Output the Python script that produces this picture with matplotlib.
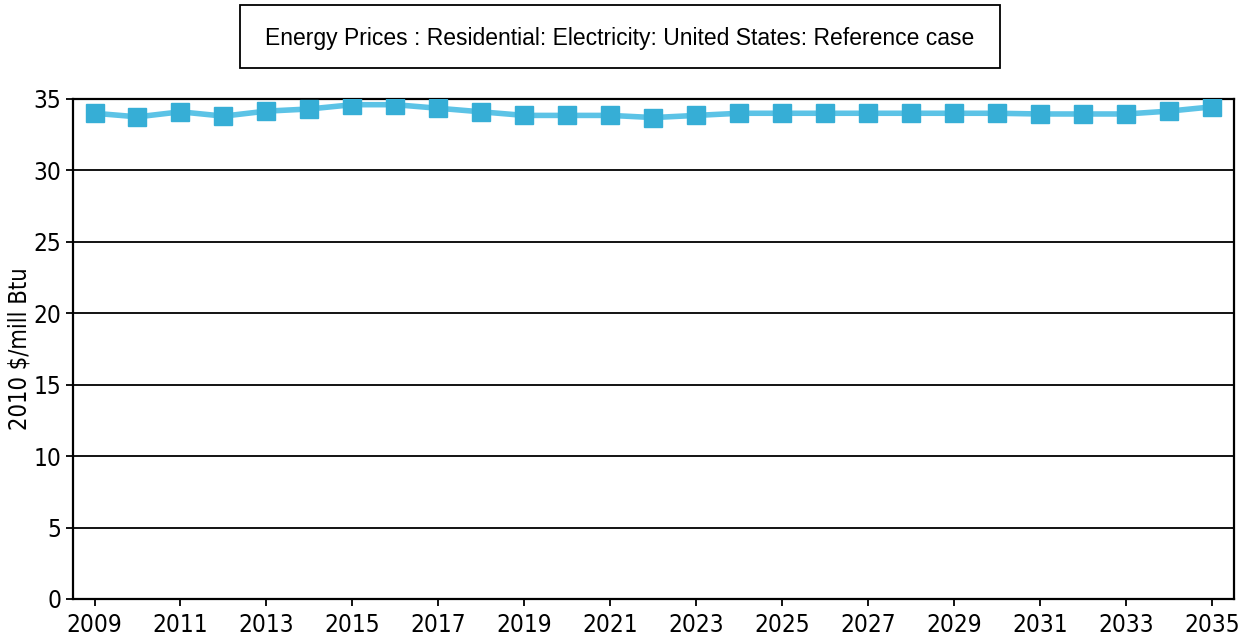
import matplotlib.pyplot as plt
from matplotlib.patches import Rectangle
from matplotlib.ticker import MultipleLocator

plt.rcParams['font.family'] = ['DejaVu Sans']
plt.rcParams['font.stretch'] = 'condensed'

years = list(range(2009, 2036))
prices = [34.0, 33.75, 34.1, 33.8, 34.15, 34.3, 34.6, 34.6, 34.35, 34.1,
          33.85, 33.85, 33.85, 33.7, 33.85, 34.0, 34.0, 34.0, 34.0, 34.0,
          34.0, 34.0, 33.95, 33.95, 33.95, 34.15, 34.45]
xticks = list(range(2009, 2036, 2))

fig = plt.figure(figsize=(12.46, 6.44), dpi=100)
ax = fig.add_axes([0.0586, 0.0699, 0.9314, 0.7764])

ax.plot(years, prices, '-', color='#5cc3e6', lw=4, marker='s', ms=12.5,
        mfc='#36aed6', mec='#36aed6', zorder=3)

ax.set_xlim(2008.5, 2035.5)
ax.set_ylim(0, 35)
ax.yaxis.set_major_locator(MultipleLocator(5))
ax.set_xticks(xticks)
ax.set_xticklabels([str(y) for y in xticks])
ax.grid(axis='y', color='black', lw=1.3)
ax.set_axisbelow(True)
for s in ax.spines.values():
    s.set_linewidth(1.6)
ax.tick_params(axis='both', labelsize=17.5, direction='out', length=5, width=1.3)
ax.tick_params(axis='x', pad=5)
ax.set_ylabel('2010 $/mill Btu', fontsize=17, labelpad=1)

# title box
fig.patches.append(Rectangle((240 / 1246, 1 - 68 / 644), 760 / 1246, 63 / 644,
                             transform=fig.transFigure, fc='white', ec='black', lw=1.3))
fig.text(620 / 1246, 1 - 38 / 644,
         'Energy Prices : Residential: Electricity: United States: Reference case',
         ha='center', va='center', fontsize=16.5, family=['Liberation Sans', 'DejaVu Sans'],
         fontstretch='normal')

fig.savefig('out.png', dpi=100)
